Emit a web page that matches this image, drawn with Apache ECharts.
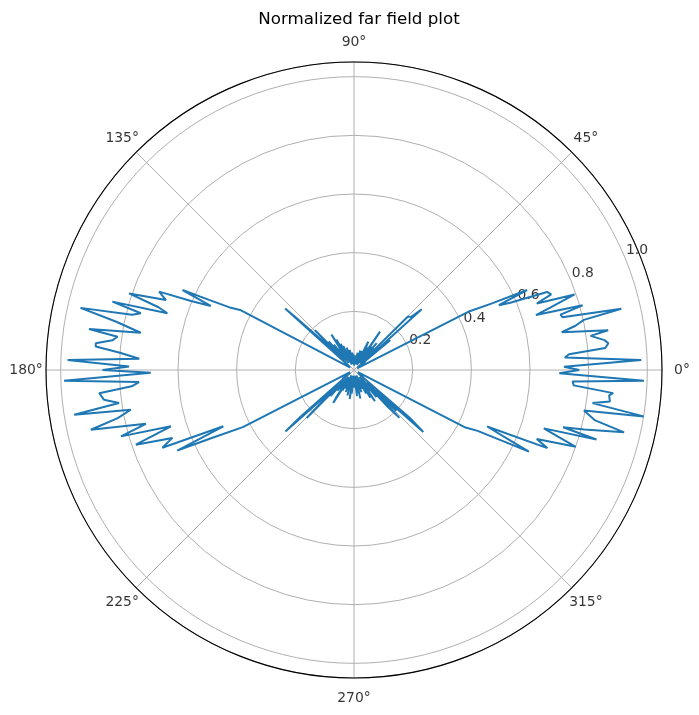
<!DOCTYPE html>
<html><head><meta charset="utf-8">
<script src="https://cdn.jsdelivr.net/npm/echarts@6/dist/echarts.min.js"></script>
<style>html,body{margin:0;padding:0;background:#fff}#c{width:699px;height:715px}</style>
</head><body><div id="c"></div>
<script>
// angle (degrees) and normalized magnitude of each plotted sample
const thetaDeg = [
  0.0, 0.9, 2.0, 3.4, 4.2, 5.0, 6.0, 6.8, 8.2, 8.9, 10.3, 11.3, 12.3, 12.9, 14.2, 15.0, 15.8, 16.8, 17.6, 18.9,
  20.0, 21.0, 22.0, 23.3, 24.1, 24.8, 25.8, 27.0, 28.5,
  29.5, 31.0, 32.5, 34.0, 35.5, 37.0, 38.2, 39.5, 40.5, 41.9, 42.8, 44.8, 45.8, 47.0, 48.5, 50.0, 51.5, 53.0, 54.5,
  55.8, 57.0, 58.5, 60.0, 61.5, 63.2, 64.5, 66.0, 67.5, 69.0, 70.5, 72.0, 73.5, 75.0, 76.5, 78.0, 79.5, 81.0, 82.5,
  84.0, 85.5, 87.0, 88.5, 90.0, 91.5, 93.0, 94.5, 96.0, 97.5, 99.0, 100.5, 102.0, 103.5, 105.0, 106.5, 108.0, 109.5,
  111.0, 112.5, 114.0, 115.5, 117.0, 118.5, 120.0, 121.2, 122.5, 124.0, 125.5, 127.0, 128.5, 130.0, 131.5, 133.0,
  134.5, 135.5, 136.5, 137.9, 138.2, 139.3, 140.5, 142.0, 143.5, 145.0, 146.5, 148.0, 149.5, 151.0,
  152.2, 153.2, 154.2, 155.0, 155.9, 157.0, 158.1, 159.6, 161.2, 162.2, 163.1, 164.2, 165.1, 166.0, 167.2, 168.5,
  170.1, 171.2, 172.0, 173.0, 174.1, 174.8, 175.8, 177.0, 178.0, 179.1, 180.0, 180.8, 182.1, 183.2, 184.2, 185.2,
  186.8, 188.0, 189.1, 190.1, 191.5, 192.8, 194.5, 195.9, 197.1, 198.9, 200.5, 202.1, 203.3, 204.5, 205.5, 207.2, 208.5,
  210.0, 211.5, 213.0, 214.5, 216.0, 217.5, 219.0, 220.3, 221.2, 221.9, 223.0, 225.4, 226.5, 228.0, 229.5, 231.0,
  232.5, 234.0, 235.5, 237.0, 237.9, 239.0, 240.5, 242.0, 243.5, 245.0, 246.5, 248.0, 249.5, 251.0, 252.5, 254.0,
  255.5, 257.0, 258.5, 260.0, 261.5, 263.0, 264.5, 266.0, 267.5, 269.0, 270.5, 272.0, 273.5, 275.0, 276.5, 278.0,
  279.5, 281.0, 282.5, 284.0, 285.5, 287.0, 288.5, 290.0, 291.5, 293.0, 294.5, 296.0, 297.5, 299.0, 300.5, 302.0,
  303.9, 305.0, 306.5, 308.0, 309.5, 311.0, 312.5, 313.5, 314.5, 316.0, 317.3, 318.2, 319.4, 320.5, 322.0, 323.5,
  325.0, 326.5, 328.0, 329.5, 331.0, 332.0,
  332.7, 333.8, 335.0, 335.7, 337.0, 338.0, 339.3, 340.9, 342.9, 344.0, 344.7, 345.5, 347.0, 348.2, 350.0, 350.9,
  352.1, 353.0, 354.3, 354.9, 356.0, 357.0, 357.9, 359.1, 360.0
];
const magnitude = [
  0.768, 0.716, 0.980, 0.720, 0.735, 0.860, 0.872, 0.860, 0.815, 0.877, 0.720, 0.770, 0.802, 0.935, 0.733, 0.729, 0.810, 0.648, 0.700, 0.795,
  0.663, 0.720, 0.710, 0.580, 0.541, 0.650, 0.520, 0.437, 0.012,
  0.02, 0.03, 0.015, 0.04, 0.02, 0.05, 0.03, 0.16, 0.05, 0.310, 0.268, 0.258, 0.04, 0.10, 0.03, 0.12, 0.04, 0.10, 0.03,
  0.158, 0.04, 0.09, 0.02, 0.08, 0.108, 0.03, 0.07, 0.02, 0.06, 0.03, 0.07, 0.02, 0.05, 0.02, 0.06, 0.02, 0.05, 0.02,
  0.045, 0.02, 0.04, 0.015, 0.05, 0.02, 0.055, 0.02, 0.06, 0.02, 0.05, 0.02, 0.07, 0.02, 0.06, 0.03, 0.08, 0.03,
  0.06, 0.02, 0.09, 0.03, 0.10, 0.04, 0.12, 0.05, 0.143, 0.04, 0.09, 0.03, 0.11, 0.04, 0.13, 0.05,
  0.19, 0.06, 0.10, 0.263, 0.315, 0.05, 0.04, 0.02, 0.04, 0.02, 0.03, 0.015, 0.02, 0.015,
  0.439, 0.470, 0.549, 0.645, 0.535, 0.600, 0.716, 0.684, 0.810, 0.700, 0.665, 0.856, 0.752, 0.780, 0.956, 0.829,
  0.738, 0.914, 0.814, 0.830, 0.885, 0.884, 0.800, 0.733, 0.977, 0.767, 0.857, 0.693, 0.989, 0.734, 0.760, 0.872,
  0.858, 0.809, 0.966, 0.773, 0.822, 0.920, 0.733, 0.826, 0.653, 0.786, 0.661, 0.705, 0.485, 0.662, 0.540, 0.426, 0.015,
  0.02, 0.03, 0.015, 0.04, 0.02, 0.05, 0.03, 0.08, 0.241, 0.314, 0.07, 0.230, 0.05, 0.12, 0.04, 0.09,
  0.03, 0.08, 0.04, 0.11, 0.133, 0.04, 0.08, 0.03, 0.07, 0.02, 0.06, 0.03, 0.08, 0.02, 0.06, 0.03,
  0.09, 0.02, 0.07, 0.03, 0.10, 0.03, 0.08, 0.02, 0.06, 0.02, 0.05, 0.02, 0.06, 0.03, 0.09, 0.02,
  0.08, 0.03, 0.10, 0.03, 0.07, 0.02, 0.08, 0.03, 0.06, 0.02, 0.07, 0.03, 0.09, 0.04, 0.11, 0.04,
  0.128, 0.05, 0.09, 0.03, 0.12, 0.04, 0.17, 0.225, 0.06, 0.20, 0.10, 0.317, 0.250, 0.04, 0.03, 0.02,
  0.04, 0.015, 0.03, 0.02, 0.03, 0.015,
  0.428, 0.470, 0.658, 0.587, 0.493, 0.711, 0.666, 0.800, 0.677, 0.860, 0.739, 0.811, 0.945, 0.840, 0.796, 1.000,
  0.821, 0.879, 0.874, 0.887, 0.751, 0.746, 0.989, 0.700, 0.768
];
const radialTicks = [0.2, 0.4, 0.6, 0.8, 1.0];
const radialLabelAngle = 22.5;
const angleTicks = [0, 45, 90, 135, 180, 225, 270, 315];
const angleLabelRadius = 1.118;

const chart = echarts.init(document.getElementById('c'), null, {renderer: 'canvas'});
const font = 'DejaVu Sans';
chart.setOption({
  animation: false,
  backgroundColor: '#ffffff',
  title: {
    text: 'Normalized far field plot', left: 354, top: 6, textAlign: 'center',
    textStyle: {fontFamily: font, fontSize: 16.7, fontWeight: 'normal', color: '#000'}
  },
  polar: {center: [354, 370], radius: 308},
  angleAxis: {
    type: 'value', min: 0, max: 360, interval: 45, startAngle: 0, clockwise: false,
    axisLine: {show: true, lineStyle: {color: '#000', width: 1.1}},
    axisTick: {show: false},
    axisLabel: {show: false},
    splitLine: {show: true, lineStyle: {color: '#b0b0b0', width: 1}}
  },
  radiusAxis: {
    type: 'value', min: 0, max: 1.05, interval: 0.2,
    axisLine: {show: false}, axisTick: {show: false}, axisLabel: {show: false},
    splitLine: {show: true, lineStyle: {color: '#b0b0b0', width: 1}}
  },
  series: [
    {
      type: 'scatter', coordinateSystem: 'polar', silent: true, z: 1, clip: false,
      data: radialTicks.map(r => [r, radialLabelAngle]),
      symbolSize: 0,
      label: {
        show: true, position: 'right', distance: 1, offset: [0, -7],
        formatter: p => p.value[0].toFixed(1),
        color: '#000', fontSize: 13.9, fontFamily: font
      }
    },
    {
      type: 'scatter', coordinateSystem: 'polar', silent: true, z: 1, clip: false,
      data: angleTicks.map(a => [angleLabelRadius, a]),
      symbolSize: 0,
      label: {
        show: true, position: 'inside',
        formatter: p => p.value[1] + '°',
        color: '#000', fontSize: 13.9, fontFamily: font
      }
    },
    {
      type: 'line', coordinateSystem: 'polar', z: 2,
      data: thetaDeg.map((t, i) => [magnitude[i], t]),
      symbol: 'none', showSymbol: false,
      lineStyle: {color: '#1f77b4', width: 2}
    }
  ]
});
</script>
</body></html>
